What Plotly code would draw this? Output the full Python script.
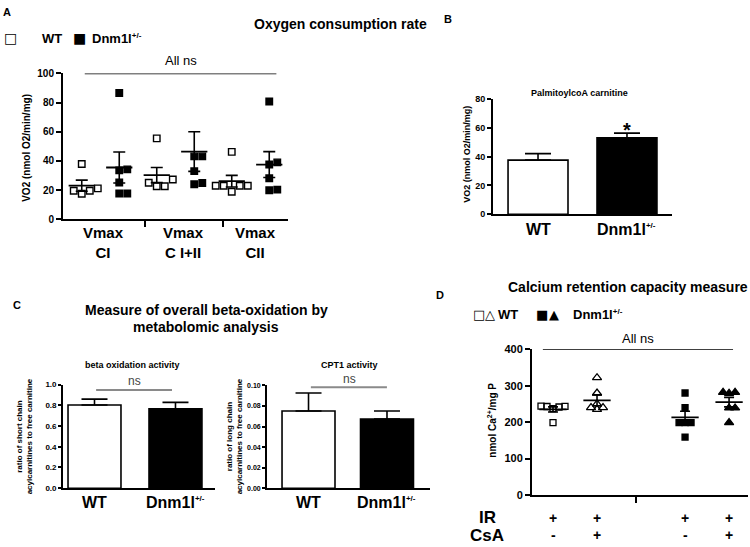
import plotly.graph_objects as go

W, H = 750, 547
FONT = "Arial, Liberation Sans, Helvetica, sans-serif"
SYM_FONT = "DejaVu Sans"

# ---------------- Panel A : oxygen consumption (dot plots) ----------------
a_cat_labels = ["Vmax<br>CI", "Vmax<br>C I+II", "Vmax<br>CII"]
a_wt_ci = [37.9, 19.5, 17.5, 21.2, 19.5]
a_ko_ci = [86.6, 34.2, 33.5, 25.2, 17.6, 17.6]
a_wt_ci_ii = [55.5, 27.3, 25.0, 22.6, 22.6]
a_ko_ci_ii = [43.1, 43.1, 33.0, 24.0, 24.9]
a_wt_cii = [46.2, 23.0, 23.0, 18.9, 23.0, 23.0]
a_ko_cii = [80.8, 39.0, 37.5, 28.1, 19.9, 20.3]
a_means = [23.0, 35.5, 30.3, 46.4, 26.1, 37.5]
a_sems = [3.8, 10.6, 5.2, 13.6, 4.0, 8.9]

# ---------------- Panel B : PalmitoylcoA carnitine ----------------
SUP = "<sup><span style='font-size:8px'>+/-</span></sup>"
b_labels = ["WT", "Dnm1l" + SUP]
b_values = [37.6, 53.0]
b_sems = [4.5, 3.3]

# ---------------- Panel C : beta-oxidation ----------------
c1_values = [0.803, 0.766]
c1_sems = [0.056, 0.062]
c2_values = [0.0751, 0.0674]
c2_sems = [0.0176, 0.0077]

# ---------------- Panel D : calcium retention capacity ----------------
d_wt_no_csa = [241.6, 243.4, 237.0, 244.0, 243.0, 198.7]
d_wt_csa = [322.0, 280.0, 250.0, 240.0, 240.0, 235.0]
d_ko_no_csa = [280.0, 240.0, 199.0, 199.0, 199.0, 159.0]
d_ko_csa = [282.0, 279.0, 282.0, 239.0, 239.0, 199.0]
d_means = [235.0, 260.0, 213.0, 255.0]
d_sems = [7.0, 15.0, 17.0, 13.0]
d_ir = ["+", "+", "+", "+"]
d_csa = ["-", "+", "-", "+"]


def swarm(vals, ppx_y, ppx_x, d):
    """Simple deterministic beeswarm: returns x offsets in data units."""
    idx = sorted(range(len(vals)), key=lambda i: vals[i])
    placed = []
    off = [0.0] * len(vals)
    cands = [0.0]
    for k in range(1, 8):
        cands += [k * d, -k * d]
    for i in idx:
        y = vals[i] * ppx_y
        chosen = 0.0
        for c in cands:
            if all((c - a) ** 2 + (y - b) ** 2 >= (0.9 * d) ** 2 for a, b in placed):
                chosen = c
                break
        placed.append((chosen, y))
        off[i] = chosen / ppx_x
    return off


fig = go.Figure()
annotations = []
shapes = []


def txt(t, x, y, size, bold=True, color="black", xanchor="center", angle=0,
        family=FONT, xref="paper"):
    xx = x / W if xref == "paper" else x
    annotations.append(dict(
        text=t, x=xx, y=1 - y / H, xref=xref, yref="paper", showarrow=False,
        xanchor=xanchor, yanchor="middle", textangle=angle,
        font=dict(family=family, size=size, color=color,
                  weight="bold" if bold else "normal")))


# ---- Panel A traces
a_groups = [a_wt_ci, a_ko_ci, a_wt_ci_ii, a_ko_ci_ii, a_wt_cii, a_ko_cii]
a_pos = list(range(6))
A_PPX_X, A_PPX_Y = 37.4, 1.49
for i, vals in enumerate(a_groups):
    wt = (i % 2 == 0)
    offs = swarm(vals, A_PPX_Y, A_PPX_X, 8)
    fig.add_trace(go.Scatter(
        x=[a_pos[i] + o for o in offs], y=vals, mode="markers",
        marker=dict(symbol="square-open" if wt else "square", size=6.5,
                    color="black", line=dict(width=1.4, color="black")),
        xaxis="x", yaxis="y", hoverinfo="skip"))
hw = 0.35
mx, my = [], []
for p, m in zip(a_pos, a_means):
    mx += [p - hw, p + hw, None]
    my += [m, m, None]
fig.add_trace(go.Scatter(x=mx, y=my, mode="lines", line=dict(color="black", width=1.8),
                         xaxis="x", yaxis="y", hoverinfo="skip"))
fig.add_trace(go.Scatter(
    x=a_pos, y=a_means, mode="markers", marker=dict(size=1, color="rgba(0,0,0,0)"),
    error_y=dict(type="data", array=a_sems, width=6, thickness=1.6, color="black"),
    xaxis="x", yaxis="y", hoverinfo="skip"))

# ---- Panel B traces
fig.add_trace(go.Bar(
    x=[0, 1], y=b_values, width=0.674,
    marker=dict(color=["white", "black"], line=dict(color="black", width=1.6)),
    error_y=dict(type="data", symmetric=False, array=b_sems, arrayminus=[0, 0],
                 width=13, thickness=1.6, color="black"),
    xaxis="x2", yaxis="y2", hoverinfo="skip"))

# ---- Panel C traces
fig.add_trace(go.Bar(
    x=[0, 1], y=c1_values, width=0.654,
    marker=dict(color=["white", "black"], line=dict(color="black", width=1.6)),
    error_y=dict(type="data", symmetric=False, array=c1_sems, arrayminus=[0, 0],
                 width=13, thickness=1.6, color="black"),
    xaxis="x3", yaxis="y3", hoverinfo="skip"))
fig.add_trace(go.Bar(
    x=[0, 1], y=c2_values, width=0.675,
    marker=dict(color=["white", "black"], line=dict(color="black", width=1.6)),
    error_y=dict(type="data", symmetric=False, array=c2_sems, arrayminus=[0, 0],
                 width=13, thickness=1.6, color="black"),
    xaxis="x4", yaxis="y4", hoverinfo="skip"))

# ---- Panel D traces
d_groups = [d_wt_no_csa, d_wt_csa, d_ko_no_csa, d_ko_csa]
d_pos = [0, 1, 3, 4]
d_symbols = ["square-open", "triangle-up-open", "square", "triangle-up"]
d_sizes = [6, 8, 6, 8]
D_PPX_X, D_PPX_Y = 44.0, 0.373
for vals, p, sym, sz in zip(d_groups, d_pos, d_symbols, d_sizes):
    offs = swarm(vals, D_PPX_Y, D_PPX_X, 6)
    fig.add_trace(go.Scatter(
        x=[p + o for o in offs], y=vals, mode="markers",
        marker=dict(symbol=sym, size=sz, color="black", line=dict(width=1.3, color="black")),
        xaxis="x5", yaxis="y5", hoverinfo="skip"))
hw = 0.31
mx, my = [], []
for p, m in zip(d_pos, d_means):
    mx += [p - hw, p + hw, None]
    my += [m, m, None]
fig.add_trace(go.Scatter(x=mx, y=my, mode="lines", line=dict(color="black", width=1.8),
                         xaxis="x5", yaxis="y5", hoverinfo="skip"))
fig.add_trace(go.Scatter(
    x=d_pos, y=d_means, mode="markers", marker=dict(size=1, color="rgba(0,0,0,0)"),
    error_y=dict(type="data", array=d_sems, width=5, thickness=1.6, color="black"),
    xaxis="x5", yaxis="y5", hoverinfo="skip"))


# ---------------- axes ----------------
def axis(**kw):
    base = dict(showline=True, linecolor="black", linewidth=2, ticks="outside",
                ticklen=4, tickwidth=1.6, tickcolor="black", showgrid=False,
                zeroline=False, fixedrange=True,
                tickfont=dict(family=FONT, size=10, color="black", weight="bold"))
    base.update(kw)
    return base


def dom_x(a, b):
    return [a / W, b / W]


def dom_y(top, bottom):
    return [1 - bottom / H, 1 - top / H]


layout = dict(
    width=W, height=H, margin=dict(l=0, r=0, t=0, b=0),
    paper_bgcolor="white", plot_bgcolor="white", showlegend=False,
    xaxis=axis(domain=dom_x(63, 288), range=[-0.5, 5.5], anchor="y",
               tickvals=[1.68, 3.77], showticklabels=False, ticklen=6, tickwidth=2),
    yaxis=axis(domain=dom_y(69, 218), range=[0, 100], anchor="x",
               tickvals=[0, 20, 40, 60, 80, 100], ticklen=5),
    xaxis2=axis(domain=dom_x(493, 672), range=[-0.506, 1.506], anchor="y2",
                ticks="", showticklabels=False),
    yaxis2=axis(domain=dom_y(95, 213), range=[0, 80], anchor="x2",
                tickvals=[0, 20, 40, 60, 80],
                tickfont=dict(family=FONT, size=9, color="black", weight="bold")),
    xaxis3=axis(domain=dom_x(63, 215), range=[-0.389, 1.488], anchor="y3",
                ticks="", showticklabels=False, linewidth=1.8),
    yaxis3=axis(domain=dom_y(387, 493), range=[0, 1.0], anchor="x3",
                tickvals=[0, 0.2, 0.4, 0.6, 0.8, 1.0], tickformat=".1f", linewidth=1.8,
                ticklen=3,
                tickfont=dict(family=FONT, size=8, color="black", weight="bold")),
    xaxis4=axis(domain=dom_x(267, 430), range=[-0.529, 1.548], anchor="y4",
                ticks="", showticklabels=False, linewidth=1.8),
    yaxis4=axis(domain=dom_y(388, 493), range=[0, 0.1], anchor="x4",
                tickvals=[0, 0.02, 0.04, 0.06, 0.08, 0.10], tickformat=".2f", linewidth=1.8,
                ticklen=3,
                tickfont=dict(family=FONT, size=7, color="black", weight="bold")),
    xaxis5=axis(domain=dom_x(532, 748), range=[-0.477, 4.43], anchor="y5",
                tickvals=[1.886], showticklabels=False, ticklen=6, tickwidth=2),
    yaxis5=axis(domain=dom_y(351, 500), range=[0, 400], anchor="x5",
                tickvals=[0, 100, 200, 300, 400], ticklen=5,
                tickfont=dict(family=FONT, size=11, color="black", weight="bold")),
)

# ---------------- significance lines ----------------
shapes.append(dict(type="line", xref="x", yref="y", x0=0.08, x1=5.19, y0=100, y1=100,
                   line=dict(color="black", width=1.6)))
shapes.append(dict(type="line", xref="x3", yref="y3", x0=0.02, x1=0.957, y0=0.947, y1=0.947,
                   line=dict(color="#8a8a8a", width=2)))
shapes.append(dict(type="line", xref="x4", yref="y4", x0=0.03, x1=0.999, y0=0.0984, y1=0.0984,
                   line=dict(color="#8a8a8a", width=2)))
shapes.append(dict(type="line", xref="x5", yref="y5", x0=-0.23, x1=4.09, y0=400, y1=400,
                   line=dict(color="black", width=1.6)))

# ---------------- texts: panel A ----------------
txt("A", 7, 6, 11)
txt("Oxygen consumption rate", 340, 18, 14)
txt("\u25A1", 10.5, 33, 14, family=SYM_FONT)
txt("WT", 40, 33, 13, xanchor="left")
txt("\u25A0", 79, 33, 14, family=SYM_FONT)
txt("Dnm1l" + SUP, 90, 33, 13, xanchor="left")
txt("All ns", 181, 56, 13, bold=False)
txt("VO2 (nmol O2/min/mg)", 27, 145, 10, angle=-90)
a_bounds = [-0.5, 1.68, 3.77, 5.5]
for k, lab in enumerate(a_cat_labels):
    txt(lab, (a_bounds[k] + a_bounds[k + 1]) / 2, 242, 15, xref="x")

# ---------------- texts: panel B ----------------
txt("B", 448, 13, 11)
txt("PalmitoylcoA carnitine", 579, 89, 9)
txt("VO2 (nmol O2/min/mg)", 467, 152, 9, angle=-90)
for k, lab in enumerate(b_labels):
    txt(lab, k, 229, 16, xref="x2")
txt("*", 1, 127, 20, xref="x2")

# ---------------- texts: panel C ----------------
txt("C", 17, 306, 11)
txt("Measure of overall beta-oxidation by", 206, 311, 14)
txt("metabolomic analysis", 206, 328, 14)
txt("beta oxidation activity", 132, 367, 9)
txt("CPT1 activity", 349, 367, 9)
txt("ratio of short chain<br>acylcarnitines to free carnitine", 24, 440, 8, angle=-90)
txt("ratio of long chain<br>acylcarnitines to free carnitine", 234, 440, 8, angle=-90)
txt("ns", 134, 383, 12, bold=False, color="#444444")
txt("ns", 349, 381, 12, bold=False, color="#444444")
for k, lab in enumerate(b_labels):
    txt(lab, k, 508, 16, xref="x3")
    txt(lab, k, 508, 16, xref="x4")

# ---------------- texts: panel D ----------------
txt("D", 440, 295, 11)
txt("Calcium retention capacity measure", 628, 287, 14)
txt("\u25A1", 479, 315, 13, family=SYM_FONT)
txt("\u25B3", 490, 315, 13, family=SYM_FONT)
txt("WT", 496, 315, 13, xanchor="left")
txt("\u25A0", 542, 315, 13, family=SYM_FONT)
txt("\u25B2", 554, 315, 13, family=SYM_FONT)
txt("Dnm1l" + SUP, 571, 315, 13, xanchor="left")
txt("All ns", 638, 340, 13, bold=False)
txt("nmol Ca<sup>2+</sup>/mg P", 492, 424, 10, angle=-90)
txt("IR", 487, 523, 17)
txt("CsA", 487, 541, 17)
for p, a, b in zip(d_pos, d_ir, d_csa):
    txt(a, p, 523, 14, xref="x5")
    txt(b, p, 541, 14, xref="x5")

layout["annotations"] = annotations
layout["shapes"] = shapes
fig.update_layout(**layout)
fig.write_html("out.html", config={"displayModeBar": False},
               post_script="document.body.style.margin='0px';document.body.style.overflow='hidden';")
